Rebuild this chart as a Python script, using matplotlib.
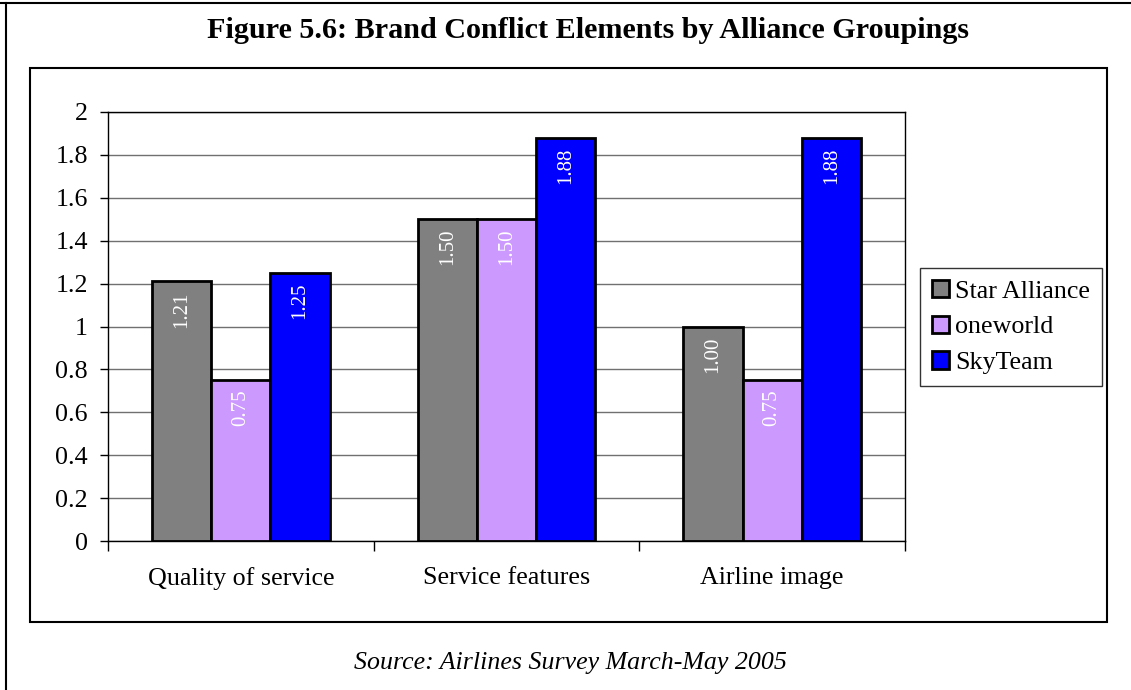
import matplotlib
matplotlib.use("Agg")
import matplotlib.pyplot as plt
from matplotlib.lines import Line2D
from matplotlib.patches import Rectangle
import numpy as np

categories = ["Quality of service", "Service features", "Airline image"]
series_names = ["Star Alliance", "oneworld", "SkyTeam"]
star_alliance = [1.21, 1.50, 1.00]
oneworld = [0.75, 1.50, 0.75]
skyteam = [1.25, 1.88, 1.88]
colors = ["#808080", "#cc99ff", "#0000ff"]
yticks = [0, 0.2, 0.4, 0.6, 0.8, 1, 1.2, 1.4, 1.6, 1.8, 2]
ytick_labels = ["0", "0.2", "0.4", "0.6", "0.8", "1", "1.2", "1.4", "1.6", "1.8", "2"]
title = "Figure 5.6: Brand Conflict Elements by Alliance Groupings"
source = "Source: Airlines Survey March-May 2005"

plt.rcParams["font.family"] = ["Liberation Serif", "DejaVu Serif"]

W, H = 1131, 690
fig = plt.figure(figsize=(W / 100, H / 100), dpi=100)
fig.patch.set_facecolor("white")

def fx(px):
    return px / W

def fy(py):
    return 1 - py / H

# outer border (top and left)
fig.add_artist(Line2D([0, 1], [fy(3), fy(3)], color="black", lw=1.5, transform=fig.transFigure))
fig.add_artist(Line2D([fx(6), fx(6)], [fy(3), 0], color="black", lw=1.5, transform=fig.transFigure))
# inner chart box
fig.add_artist(Rectangle((fx(30), fy(622)), fx(1107) - fx(30), fy(68) - fy(622),
                         fill=False, edgecolor="black", lw=1.5, transform=fig.transFigure))

fig.text(fx(588), fy(31), title, ha="center", va="center", fontsize=21.7, fontweight="bold")
fig.text(fx(570), fy(663), source, ha="center", va="center", fontsize=18.6, style="italic")

ax = fig.add_axes([fx(108), fy(541), fx(905) - fx(108), fy(112) - fy(541)])
x = np.arange(len(categories))
bw = 0.2226
data = [star_alliance, oneworld, skyteam]
for i, (vals, name, c) in enumerate(zip(data, series_names, colors)):
    bars = ax.bar(x + (i - 1) * bw, vals, bw, color=c, edgecolor="black", linewidth=2,
                  label=name, zorder=3)
    for b, v in zip(bars, vals):
        ax.annotate(f"{v:.2f}", (b.get_x() + b.get_width() / 2, v), xytext=(0, -7),
                    textcoords="offset points", rotation=90, ha="center", va="top",
                    color="white", fontsize=15, zorder=4)

ax.set_xlim(-0.5, 2.5)
ax.set_ylim(0, 2)
ax.set_yticks(yticks)
ax.set_yticklabels(ytick_labels, fontsize=18.7)
ax.yaxis.grid(True, color="#707070", lw=1, zorder=0)
ax.set_axisbelow(True)
ax.tick_params(axis="y", direction="out", length=6, width=1, pad=8.5)
ax.set_xticks([-0.5, 0.5, 1.5, 2.5])
ax.set_xticklabels([])
ax.set_xticks(x, minor=True)
ax.set_xticklabels(categories, minor=True, fontsize=18.7)
ax.tick_params(axis="x", which="major", direction="out", length=7, width=1)
ax.tick_params(axis="x", which="minor", length=0, pad=19)
for s in ax.spines.values():
    s.set_color("black")
    s.set_linewidth(1)

leg = ax.legend(loc="center left", bbox_to_anchor=(fx(920), fy(327)), bbox_transform=fig.transFigure,
                fontsize=18.7, frameon=True, fancybox=False, edgecolor="black",
                handlelength=0.65, handleheight=0.65, handletextpad=0.25, labelspacing=0.5,
                borderpad=0.45, borderaxespad=0)
leg.get_frame().set_linewidth(1)

fig.savefig("out.png", dpi=100, facecolor="white")
